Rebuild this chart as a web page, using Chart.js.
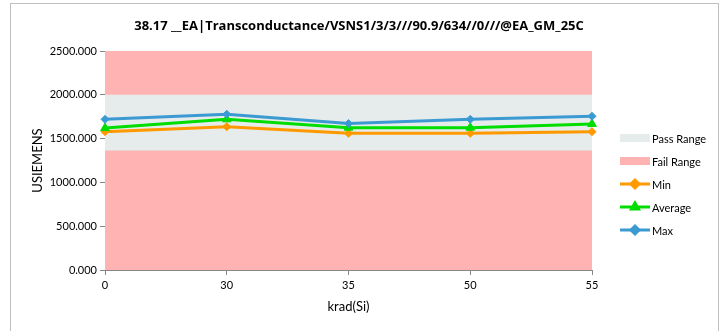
<!DOCTYPE html>
<html>
<head>
<meta charset="utf-8">
<script src="https://cdn.jsdelivr.net/npm/chart.js@4/dist/chart.umd.min.js"></script>
<style>
html,body{margin:0;padding:0;background:#fff;}
#wrap{position:relative;width:721px;height:331px;}
</style>
</head>
<body>
<div id="wrap"><canvas id="c" width="721" height="331"></canvas></div>
<script>
const titleText = '38.17 __EA|Transconductance/VSNS1/3/3///90.9/634//0///@EA_GM_25C';
const categories = ['0', '30', '35', '50', '55'];
const minValues = [1579, 1636, 1560, 1560, 1579];
const avgValues = [1620, 1720, 1625, 1625, 1667];
const maxValues = [1720, 1778, 1671, 1720, 1755];
const passUpper = [2000, 2000, 2000, 2000, 2000];
const passLower = [1365, 1365, 1365, 1365, 1365];
const failUpper = [2500, 2500, 2500, 2500, 2500];
const yTicks = [0, 500, 1000, 1500, 2000, 2500];

const FONT = 'Lato, "Open Sans", sans-serif';
const TITLE_FONT = '"Open Sans", Lato, sans-serif';
const PASS_COLOR = '#e6ebeb';
const FAIL_COLOR = '#ffb3b3';

const framePlugin = {
  id: 'frame',
  beforeDraw(chart) {
    const ctx = chart.ctx;
    ctx.save();
    ctx.fillStyle = '#fff';
    ctx.fillRect(0, 0, chart.width, chart.height);
    ctx.strokeStyle = '#bfbfbf';
    ctx.lineWidth = 1;
    ctx.strokeRect(10.5, 3.5, 708, 340);
    ctx.fillStyle = '#000';
    ctx.font = 'bold 13px ' + TITLE_FONT;
    ctx.textAlign = 'center';
    ctx.textBaseline = 'middle';
    ctx.fillText(titleText, 359, 26);
    ctx.restore();
  }
};

const legendPlugin = {
  id: 'customLegend',
  afterDraw(chart) {
    const ctx = chart.ctx;
    const items = [
      {label: 'Pass Range', type: 'box', color: PASS_COLOR},
      {label: 'Fail Range', type: 'box', color: FAIL_COLOR},
      {label: 'Min', type: 'line', ds: 3},
      {label: 'Average', type: 'line', ds: 4},
      {label: 'Max', type: 'line', ds: 5}
    ];
    ctx.save();
    ctx.font = '11px ' + FONT;
    ctx.textBaseline = 'middle';
    ctx.textAlign = 'left';
    items.forEach((it, i) => {
      const y = 138 + i * 23;
      if (it.type === 'box') {
        ctx.fillStyle = it.color;
        ctx.fillRect(620, y - 4, 30, 8);
      } else {
        const d = chart.data.datasets[it.ds];
        ctx.strokeStyle = d.borderColor;
        ctx.lineWidth = 3;
        ctx.beginPath();
        ctx.moveTo(620, y);
        ctx.lineTo(650, y);
        ctx.stroke();
        Chart.helpers.drawPoint(ctx, {pointStyle: d.pointStyle, radius: 4, rotation: 0, borderWidth: 1}, 635, y);
        ctx.fillStyle = d.borderColor;
        ctx.fill();
      }
      ctx.fillStyle = '#000';
      ctx.fillText(it.label, 652, y + 1);
    });
    ctx.restore();
  }
};

new Chart(document.getElementById('c'), {
  type: 'line',
  data: {
    labels: categories,
    datasets: [
      {label: 'Fail Range', data: failUpper, fill: 'origin', backgroundColor: FAIL_COLOR, borderWidth: 0, pointRadius: 0, order: 10},
      {label: 'Pass Range', data: passUpper, fill: '+1', backgroundColor: PASS_COLOR, borderWidth: 0, pointRadius: 0, order: 9},
      {label: 'Pass Lower', data: passLower, fill: false, borderWidth: 0, pointRadius: 0, order: 8},
      {label: 'Min', data: minValues, borderColor: '#ff9900', backgroundColor: '#ff9900', borderWidth: 3, pointStyle: 'rectRot', pointRadius: 4, pointBorderWidth: 1, fill: false, order: 3},
      {label: 'Average', data: avgValues, borderColor: '#00dd00', backgroundColor: '#00dd00', borderWidth: 3, pointStyle: 'triangle', pointRadius: 5, pointBorderWidth: 1, fill: false, order: 2},
      {label: 'Max', data: maxValues, borderColor: '#3c9ad2', backgroundColor: '#3c9ad2', borderWidth: 3, pointStyle: 'rectRot', pointRadius: 4, pointBorderWidth: 1, fill: false, order: 1}
    ]
  },
  options: {
    responsive: false,
    animation: false,
    devicePixelRatio: 1,
    layout: {padding: {left: 10, right: 129, top: 51, bottom: 0}},
    plugins: {
      legend: {display: false},
      tooltip: {enabled: false},
      title: {display: false}
    },
    scales: {
      x: {
        type: 'category',
        offset: false,
        grid: {drawOnChartArea: false, color: '#868686', tickLength: 5},
        border: {color: '#868686', width: 1},
        ticks: {color: '#000', font: {family: FONT, size: 11}, padding: 4, maxRotation: 0},
        title: {display: true, text: 'krad(Si)', color: '#000', font: {family: FONT, size: 13}, padding: {top: 4, bottom: 16}},
        afterFit(s) { s.height = 61; }
      },
      y: {
        min: 0, max: 2500,
        afterBuildTicks(s) { s.ticks = yTicks.map(v => ({value: v})); },
        grid: {drawOnChartArea: false, color: '#868686', tickLength: 5},
        border: {color: '#868686', width: 1},
        ticks: {color: '#000', font: {family: FONT, size: 11}, padding: 3, callback: v => Number(v).toFixed(3)},
        title: {display: true, text: 'USIEMENS', color: '#000', font: {family: FONT, size: 13}, padding: {top: 20, bottom: 0}},
        afterFit(s) { s.width = 95; }
      }
    }
  },
  plugins: [framePlugin, legendPlugin]
});
</script>
</body>
</html>
